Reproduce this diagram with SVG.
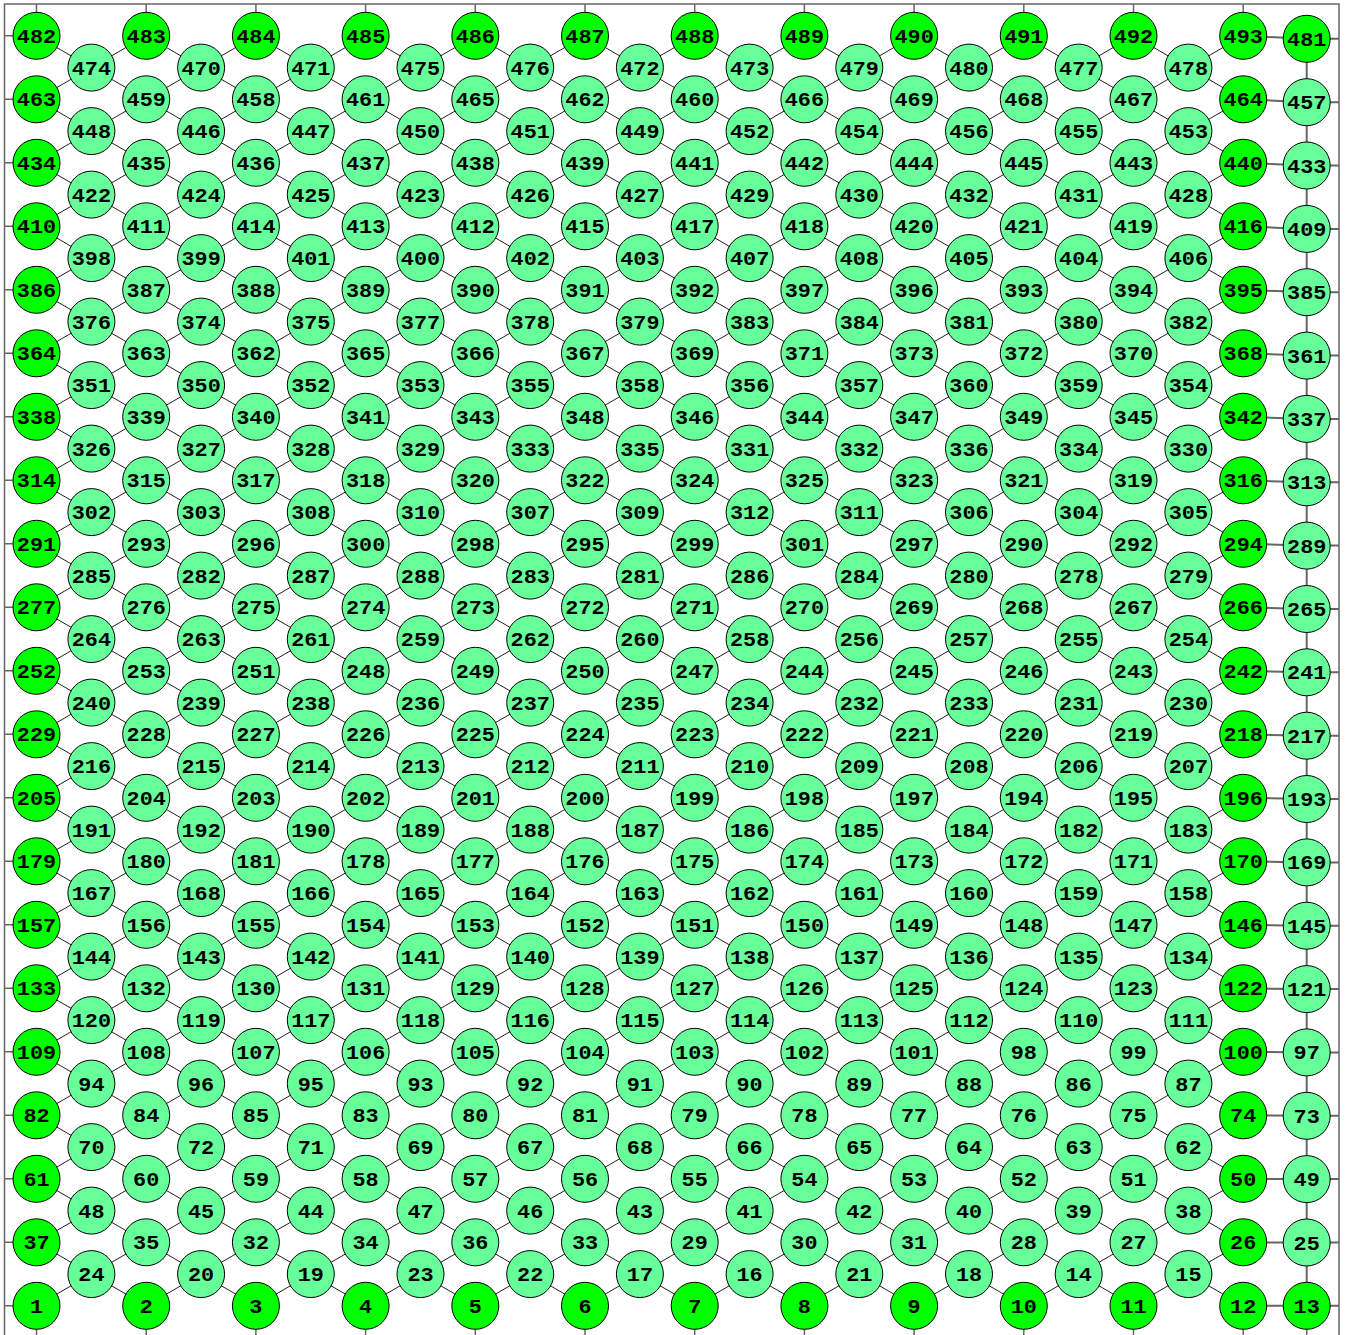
<svg xmlns="http://www.w3.org/2000/svg" width="1345" height="1335" viewBox="0 0 1345 1335">
<style>
.e{stroke:#222;stroke-width:1;fill:none}
.g{stroke:#666;stroke-width:2;fill:none}
.t{stroke:#666;stroke-width:1.5;fill:none}
circle{fill:#66ff99;stroke:#000;stroke-width:1}
.b circle{fill:#00ff00}
text{font-family:"Liberation Mono","DejaVu Sans Mono",monospace;font-weight:bold;font-size:19.5px;text-anchor:middle;fill:#000;transform:scale(1.12,1)}
</style>
<rect width="1345" height="1335" fill="#fff"/>
<g id="frame">
<path class="t" d="M4.5 1340V4H1339V1340"/>
<path class="t" d="M4.5 1305.8H36.5M4.5 1242.3H36.5M4.5 1178.8H36.5M4.5 1115.3H36.5M4.5 1051.8H36.5M4.5 988.3H36.5M4.5 924.8H36.5M4.5 861.3H36.5M4.5 797.8H36.5M4.5 734.3H36.5M4.5 670.8H36.5M4.5 607.3H36.5M4.5 543.8H36.5M4.5 480.3H36.5M4.5 416.8H36.5M4.5 353.3H36.5M4.5 289.8H36.5M4.5 226.3H36.5M4.5 162.8H36.5M4.5 99.3H36.5M4.5 35.8H36.5"/>
<path class="t" d="M36.5 4V35.8M146.2 4V35.8M255.9 4V35.8M365.6 4V35.8M475.3 4V35.8M585 4V35.8M694.7 4V35.8M804.4 4V35.8M914.1 4V35.8M1023.8 4V35.8M1133.5 4V35.8M1243.2 4V35.8"/>
<path class="t" d="M36.5 1305.8V1335M146.2 1305.8V1335M255.9 1305.8V1335M365.6 1305.8V1335M475.3 1305.8V1335M585 1305.8V1335M694.7 1305.8V1335M804.4 1305.8V1335M914.1 1305.8V1335M1023.8 1305.8V1335M1133.5 1305.8V1335M1243.2 1305.8V1335M1306.7 1305.8V1335"/>
</g>
<g id="connectors">
<path class="e" d="M1133.5 1305.8L1243.2 1242.3M1023.8 1305.8L1243.2 1178.8M914.1 1305.8L1243.2 1115.3M804.4 1305.8L1243.2 1051.8M694.7 1305.8L1243.2 988.3M585 1305.8L1243.2 924.8M475.3 1305.8L1243.2 861.3M365.6 1305.8L1243.2 797.8M255.9 1305.8L1243.2 734.3M146.2 1305.8L1243.2 670.8M36.5 1305.8L1243.2 607.3M36.5 1242.3L1243.2 543.8M36.5 1178.8L1243.2 480.3M36.5 1115.3L1243.2 416.8M36.5 1051.8L1243.2 353.3M36.5 988.3L1243.2 289.8M36.5 924.8L1243.2 226.3M36.5 861.3L1243.2 162.8M36.5 797.8L1243.2 99.3M36.5 734.3L1243.2 35.8M36.5 670.8L1133.5 35.8M36.5 607.3L1023.8 35.8M36.5 543.8L914.1 35.8M36.5 480.3L804.4 35.8M36.5 416.8L694.7 35.8M36.5 353.3L585 35.8M36.5 289.8L475.3 35.8M36.5 226.3L365.6 35.8M36.5 162.8L255.9 35.8M36.5 99.3L146.2 35.8"/>
<path class="e" d="M36.5 1242.3L146.2 1305.8M36.5 1178.8L255.9 1305.8M36.5 1115.3L365.6 1305.8M36.5 1051.8L475.3 1305.8M36.5 988.3L585 1305.8M36.5 924.8L694.7 1305.8M36.5 861.3L804.4 1305.8M36.5 797.8L914.1 1305.8M36.5 734.3L1023.8 1305.8M36.5 670.8L1133.5 1305.8M36.5 607.3L1243.2 1305.8M36.5 543.8L1243.2 1242.3M36.5 480.3L1243.2 1178.8M36.5 416.8L1243.2 1115.3M36.5 353.3L1243.2 1051.8M36.5 289.8L1243.2 988.3M36.5 226.3L1243.2 924.8M36.5 162.8L1243.2 861.3M36.5 99.3L1243.2 797.8M36.5 35.8L1243.2 734.3M146.2 35.8L1243.2 670.8M255.9 35.8L1243.2 607.3M365.6 35.8L1243.2 543.8M475.3 35.8L1243.2 480.3M585 35.8L1243.2 416.8M694.7 35.8L1243.2 353.3M804.4 35.8L1243.2 289.8M914.1 35.8L1243.2 226.3M1023.8 35.8L1243.2 162.8M1133.5 35.8L1243.2 99.3"/>
<path class="g" d="M1306.7 38.8V1305.8"/>
<path class="g" d="M1243.2 1305.8L1306.7 1305.8H1339M1243.2 1242.3L1306.7 1242.5H1339M1243.2 1178.8L1306.7 1179.1H1339M1243.2 1115.3L1306.7 1115.8H1339M1243.2 1051.8L1306.7 1052.4H1339M1243.2 988.3L1306.7 989.1H1339M1243.2 924.8L1306.7 925.7H1339M1243.2 861.3L1306.7 862.4H1339M1243.2 797.8L1306.7 799H1339M1243.2 734.3L1306.7 735.7H1339M1243.2 670.8L1306.7 672.3H1339M1243.2 607.3L1306.7 609H1339M1243.2 543.8L1306.7 545.6H1339M1243.2 480.3L1306.7 482.3H1339M1243.2 416.8L1306.7 418.9H1339M1243.2 353.3L1306.7 355.6H1339M1243.2 289.8L1306.7 292.2H1339M1243.2 226.3L1306.7 228.9H1339M1243.2 162.8L1306.7 165.5H1339M1243.2 99.3L1306.7 102.2H1339M1243.2 35.8L1306.7 38.8H1339"/>
</g>
<g id="nodes">
<g id="n1" class="b" transform="translate(36.5 1305.8)"><circle r="23.5"/><text y="7">1</text></g>
<g id="n2" class="b" transform="translate(146.2 1305.8)"><circle r="23.5"/><text y="7">2</text></g>
<g id="n3" class="b" transform="translate(255.9 1305.8)"><circle r="23.5"/><text y="7">3</text></g>
<g id="n4" class="b" transform="translate(365.6 1305.8)"><circle r="23.5"/><text y="7">4</text></g>
<g id="n5" class="b" transform="translate(475.3 1305.8)"><circle r="23.5"/><text y="7">5</text></g>
<g id="n6" class="b" transform="translate(585 1305.8)"><circle r="23.5"/><text y="7">6</text></g>
<g id="n7" class="b" transform="translate(694.7 1305.8)"><circle r="23.5"/><text y="7">7</text></g>
<g id="n8" class="b" transform="translate(804.4 1305.8)"><circle r="23.5"/><text y="7">8</text></g>
<g id="n9" class="b" transform="translate(914.1 1305.8)"><circle r="23.5"/><text y="7">9</text></g>
<g id="n10" class="b" transform="translate(1023.8 1305.8)"><circle r="23.5"/><text y="7">10</text></g>
<g id="n11" class="b" transform="translate(1133.5 1305.8)"><circle r="23.5"/><text y="7">11</text></g>
<g id="n12" class="b" transform="translate(1243.2 1305.8)"><circle r="23.5"/><text y="7">12</text></g>
<g id="n13" class="b" transform="translate(1306.7 1305.8)"><circle r="23.5"/><text y="7">13</text></g>
<g id="n24" transform="translate(91.4 1274.1)"><circle r="23.5"/><text y="7">24</text></g>
<g id="n20" transform="translate(201.1 1274.1)"><circle r="23.5"/><text y="7">20</text></g>
<g id="n19" transform="translate(310.8 1274.1)"><circle r="23.5"/><text y="7">19</text></g>
<g id="n23" transform="translate(420.5 1274.1)"><circle r="23.5"/><text y="7">23</text></g>
<g id="n22" transform="translate(530.2 1274.1)"><circle r="23.5"/><text y="7">22</text></g>
<g id="n17" transform="translate(639.9 1274.1)"><circle r="23.5"/><text y="7">17</text></g>
<g id="n16" transform="translate(749.6 1274.1)"><circle r="23.5"/><text y="7">16</text></g>
<g id="n21" transform="translate(859.3 1274.1)"><circle r="23.5"/><text y="7">21</text></g>
<g id="n18" transform="translate(969 1274.1)"><circle r="23.5"/><text y="7">18</text></g>
<g id="n14" transform="translate(1078.7 1274.1)"><circle r="23.5"/><text y="7">14</text></g>
<g id="n15" transform="translate(1188.4 1274.1)"><circle r="23.5"/><text y="7">15</text></g>
<g id="n37" class="b" transform="translate(36.5 1242.3)"><circle r="23.5"/><text y="7">37</text></g>
<g id="n35" transform="translate(146.2 1242.3)"><circle r="23.5"/><text y="7">35</text></g>
<g id="n32" transform="translate(255.9 1242.3)"><circle r="23.5"/><text y="7">32</text></g>
<g id="n34" transform="translate(365.6 1242.3)"><circle r="23.5"/><text y="7">34</text></g>
<g id="n36" transform="translate(475.3 1242.3)"><circle r="23.5"/><text y="7">36</text></g>
<g id="n33" transform="translate(585 1242.3)"><circle r="23.5"/><text y="7">33</text></g>
<g id="n29" transform="translate(694.7 1242.3)"><circle r="23.5"/><text y="7">29</text></g>
<g id="n30" transform="translate(804.4 1242.3)"><circle r="23.5"/><text y="7">30</text></g>
<g id="n31" transform="translate(914.1 1242.3)"><circle r="23.5"/><text y="7">31</text></g>
<g id="n28" transform="translate(1023.8 1242.3)"><circle r="23.5"/><text y="7">28</text></g>
<g id="n27" transform="translate(1133.5 1242.3)"><circle r="23.5"/><text y="7">27</text></g>
<g id="n26" class="b" transform="translate(1243.2 1242.3)"><circle r="23.5"/><text y="7">26</text></g>
<g id="n25" transform="translate(1306.7 1242.5)"><circle r="23.5"/><text y="7">25</text></g>
<g id="n48" transform="translate(91.4 1210.6)"><circle r="23.5"/><text y="7">48</text></g>
<g id="n45" transform="translate(201.1 1210.6)"><circle r="23.5"/><text y="7">45</text></g>
<g id="n44" transform="translate(310.8 1210.6)"><circle r="23.5"/><text y="7">44</text></g>
<g id="n47" transform="translate(420.5 1210.6)"><circle r="23.5"/><text y="7">47</text></g>
<g id="n46" transform="translate(530.2 1210.6)"><circle r="23.5"/><text y="7">46</text></g>
<g id="n43" transform="translate(639.9 1210.6)"><circle r="23.5"/><text y="7">43</text></g>
<g id="n41" transform="translate(749.6 1210.6)"><circle r="23.5"/><text y="7">41</text></g>
<g id="n42" transform="translate(859.3 1210.6)"><circle r="23.5"/><text y="7">42</text></g>
<g id="n40" transform="translate(969 1210.6)"><circle r="23.5"/><text y="7">40</text></g>
<g id="n39" transform="translate(1078.7 1210.6)"><circle r="23.5"/><text y="7">39</text></g>
<g id="n38" transform="translate(1188.4 1210.6)"><circle r="23.5"/><text y="7">38</text></g>
<g id="n61" class="b" transform="translate(36.5 1178.8)"><circle r="23.5"/><text y="7">61</text></g>
<g id="n60" transform="translate(146.2 1178.8)"><circle r="23.5"/><text y="7">60</text></g>
<g id="n59" transform="translate(255.9 1178.8)"><circle r="23.5"/><text y="7">59</text></g>
<g id="n58" transform="translate(365.6 1178.8)"><circle r="23.5"/><text y="7">58</text></g>
<g id="n57" transform="translate(475.3 1178.8)"><circle r="23.5"/><text y="7">57</text></g>
<g id="n56" transform="translate(585 1178.8)"><circle r="23.5"/><text y="7">56</text></g>
<g id="n55" transform="translate(694.7 1178.8)"><circle r="23.5"/><text y="7">55</text></g>
<g id="n54" transform="translate(804.4 1178.8)"><circle r="23.5"/><text y="7">54</text></g>
<g id="n53" transform="translate(914.1 1178.8)"><circle r="23.5"/><text y="7">53</text></g>
<g id="n52" transform="translate(1023.8 1178.8)"><circle r="23.5"/><text y="7">52</text></g>
<g id="n51" transform="translate(1133.5 1178.8)"><circle r="23.5"/><text y="7">51</text></g>
<g id="n50" class="b" transform="translate(1243.2 1178.8)"><circle r="23.5"/><text y="7">50</text></g>
<g id="n49" transform="translate(1306.7 1179.1)"><circle r="23.5"/><text y="7">49</text></g>
<g id="n70" transform="translate(91.4 1147.1)"><circle r="23.5"/><text y="7">70</text></g>
<g id="n72" transform="translate(201.1 1147.1)"><circle r="23.5"/><text y="7">72</text></g>
<g id="n71" transform="translate(310.8 1147.1)"><circle r="23.5"/><text y="7">71</text></g>
<g id="n69" transform="translate(420.5 1147.1)"><circle r="23.5"/><text y="7">69</text></g>
<g id="n67" transform="translate(530.2 1147.1)"><circle r="23.5"/><text y="7">67</text></g>
<g id="n68" transform="translate(639.9 1147.1)"><circle r="23.5"/><text y="7">68</text></g>
<g id="n66" transform="translate(749.6 1147.1)"><circle r="23.5"/><text y="7">66</text></g>
<g id="n65" transform="translate(859.3 1147.1)"><circle r="23.5"/><text y="7">65</text></g>
<g id="n64" transform="translate(969 1147.1)"><circle r="23.5"/><text y="7">64</text></g>
<g id="n63" transform="translate(1078.7 1147.1)"><circle r="23.5"/><text y="7">63</text></g>
<g id="n62" transform="translate(1188.4 1147.1)"><circle r="23.5"/><text y="7">62</text></g>
<g id="n82" class="b" transform="translate(36.5 1115.3)"><circle r="23.5"/><text y="7">82</text></g>
<g id="n84" transform="translate(146.2 1115.3)"><circle r="23.5"/><text y="7">84</text></g>
<g id="n85" transform="translate(255.9 1115.3)"><circle r="23.5"/><text y="7">85</text></g>
<g id="n83" transform="translate(365.6 1115.3)"><circle r="23.5"/><text y="7">83</text></g>
<g id="n80" transform="translate(475.3 1115.3)"><circle r="23.5"/><text y="7">80</text></g>
<g id="n81" transform="translate(585 1115.3)"><circle r="23.5"/><text y="7">81</text></g>
<g id="n79" transform="translate(694.7 1115.3)"><circle r="23.5"/><text y="7">79</text></g>
<g id="n78" transform="translate(804.4 1115.3)"><circle r="23.5"/><text y="7">78</text></g>
<g id="n77" transform="translate(914.1 1115.3)"><circle r="23.5"/><text y="7">77</text></g>
<g id="n76" transform="translate(1023.8 1115.3)"><circle r="23.5"/><text y="7">76</text></g>
<g id="n75" transform="translate(1133.5 1115.3)"><circle r="23.5"/><text y="7">75</text></g>
<g id="n74" class="b" transform="translate(1243.2 1115.3)"><circle r="23.5"/><text y="7">74</text></g>
<g id="n73" transform="translate(1306.7 1115.8)"><circle r="23.5"/><text y="7">73</text></g>
<g id="n94" transform="translate(91.4 1083.6)"><circle r="23.5"/><text y="7">94</text></g>
<g id="n96" transform="translate(201.1 1083.6)"><circle r="23.5"/><text y="7">96</text></g>
<g id="n95" transform="translate(310.8 1083.6)"><circle r="23.5"/><text y="7">95</text></g>
<g id="n93" transform="translate(420.5 1083.6)"><circle r="23.5"/><text y="7">93</text></g>
<g id="n92" transform="translate(530.2 1083.6)"><circle r="23.5"/><text y="7">92</text></g>
<g id="n91" transform="translate(639.9 1083.6)"><circle r="23.5"/><text y="7">91</text></g>
<g id="n90" transform="translate(749.6 1083.6)"><circle r="23.5"/><text y="7">90</text></g>
<g id="n89" transform="translate(859.3 1083.6)"><circle r="23.5"/><text y="7">89</text></g>
<g id="n88" transform="translate(969 1083.6)"><circle r="23.5"/><text y="7">88</text></g>
<g id="n86" transform="translate(1078.7 1083.6)"><circle r="23.5"/><text y="7">86</text></g>
<g id="n87" transform="translate(1188.4 1083.6)"><circle r="23.5"/><text y="7">87</text></g>
<g id="n109" class="b" transform="translate(36.5 1051.8)"><circle r="23.5"/><text y="7">109</text></g>
<g id="n108" transform="translate(146.2 1051.8)"><circle r="23.5"/><text y="7">108</text></g>
<g id="n107" transform="translate(255.9 1051.8)"><circle r="23.5"/><text y="7">107</text></g>
<g id="n106" transform="translate(365.6 1051.8)"><circle r="23.5"/><text y="7">106</text></g>
<g id="n105" transform="translate(475.3 1051.8)"><circle r="23.5"/><text y="7">105</text></g>
<g id="n104" transform="translate(585 1051.8)"><circle r="23.5"/><text y="7">104</text></g>
<g id="n103" transform="translate(694.7 1051.8)"><circle r="23.5"/><text y="7">103</text></g>
<g id="n102" transform="translate(804.4 1051.8)"><circle r="23.5"/><text y="7">102</text></g>
<g id="n101" transform="translate(914.1 1051.8)"><circle r="23.5"/><text y="7">101</text></g>
<g id="n98" transform="translate(1023.8 1051.8)"><circle r="23.5"/><text y="7">98</text></g>
<g id="n99" transform="translate(1133.5 1051.8)"><circle r="23.5"/><text y="7">99</text></g>
<g id="n100" class="b" transform="translate(1243.2 1051.8)"><circle r="23.5"/><text y="7">100</text></g>
<g id="n97" transform="translate(1306.7 1052.4)"><circle r="23.5"/><text y="7">97</text></g>
<g id="n120" transform="translate(91.4 1020.1)"><circle r="23.5"/><text y="7">120</text></g>
<g id="n119" transform="translate(201.1 1020.1)"><circle r="23.5"/><text y="7">119</text></g>
<g id="n117" transform="translate(310.8 1020.1)"><circle r="23.5"/><text y="7">117</text></g>
<g id="n118" transform="translate(420.5 1020.1)"><circle r="23.5"/><text y="7">118</text></g>
<g id="n116" transform="translate(530.2 1020.1)"><circle r="23.5"/><text y="7">116</text></g>
<g id="n115" transform="translate(639.9 1020.1)"><circle r="23.5"/><text y="7">115</text></g>
<g id="n114" transform="translate(749.6 1020.1)"><circle r="23.5"/><text y="7">114</text></g>
<g id="n113" transform="translate(859.3 1020.1)"><circle r="23.5"/><text y="7">113</text></g>
<g id="n112" transform="translate(969 1020.1)"><circle r="23.5"/><text y="7">112</text></g>
<g id="n110" transform="translate(1078.7 1020.1)"><circle r="23.5"/><text y="7">110</text></g>
<g id="n111" transform="translate(1188.4 1020.1)"><circle r="23.5"/><text y="7">111</text></g>
<g id="n133" class="b" transform="translate(36.5 988.3)"><circle r="23.5"/><text y="7">133</text></g>
<g id="n132" transform="translate(146.2 988.3)"><circle r="23.5"/><text y="7">132</text></g>
<g id="n130" transform="translate(255.9 988.3)"><circle r="23.5"/><text y="7">130</text></g>
<g id="n131" transform="translate(365.6 988.3)"><circle r="23.5"/><text y="7">131</text></g>
<g id="n129" transform="translate(475.3 988.3)"><circle r="23.5"/><text y="7">129</text></g>
<g id="n128" transform="translate(585 988.3)"><circle r="23.5"/><text y="7">128</text></g>
<g id="n127" transform="translate(694.7 988.3)"><circle r="23.5"/><text y="7">127</text></g>
<g id="n126" transform="translate(804.4 988.3)"><circle r="23.5"/><text y="7">126</text></g>
<g id="n125" transform="translate(914.1 988.3)"><circle r="23.5"/><text y="7">125</text></g>
<g id="n124" transform="translate(1023.8 988.3)"><circle r="23.5"/><text y="7">124</text></g>
<g id="n123" transform="translate(1133.5 988.3)"><circle r="23.5"/><text y="7">123</text></g>
<g id="n122" class="b" transform="translate(1243.2 988.3)"><circle r="23.5"/><text y="7">122</text></g>
<g id="n121" transform="translate(1306.7 989.1)"><circle r="23.5"/><text y="7">121</text></g>
<g id="n144" transform="translate(91.4 956.6)"><circle r="23.5"/><text y="7">144</text></g>
<g id="n143" transform="translate(201.1 956.6)"><circle r="23.5"/><text y="7">143</text></g>
<g id="n142" transform="translate(310.8 956.6)"><circle r="23.5"/><text y="7">142</text></g>
<g id="n141" transform="translate(420.5 956.6)"><circle r="23.5"/><text y="7">141</text></g>
<g id="n140" transform="translate(530.2 956.6)"><circle r="23.5"/><text y="7">140</text></g>
<g id="n139" transform="translate(639.9 956.6)"><circle r="23.5"/><text y="7">139</text></g>
<g id="n138" transform="translate(749.6 956.6)"><circle r="23.5"/><text y="7">138</text></g>
<g id="n137" transform="translate(859.3 956.6)"><circle r="23.5"/><text y="7">137</text></g>
<g id="n136" transform="translate(969 956.6)"><circle r="23.5"/><text y="7">136</text></g>
<g id="n135" transform="translate(1078.7 956.6)"><circle r="23.5"/><text y="7">135</text></g>
<g id="n134" transform="translate(1188.4 956.6)"><circle r="23.5"/><text y="7">134</text></g>
<g id="n157" class="b" transform="translate(36.5 924.8)"><circle r="23.5"/><text y="7">157</text></g>
<g id="n156" transform="translate(146.2 924.8)"><circle r="23.5"/><text y="7">156</text></g>
<g id="n155" transform="translate(255.9 924.8)"><circle r="23.5"/><text y="7">155</text></g>
<g id="n154" transform="translate(365.6 924.8)"><circle r="23.5"/><text y="7">154</text></g>
<g id="n153" transform="translate(475.3 924.8)"><circle r="23.5"/><text y="7">153</text></g>
<g id="n152" transform="translate(585 924.8)"><circle r="23.5"/><text y="7">152</text></g>
<g id="n151" transform="translate(694.7 924.8)"><circle r="23.5"/><text y="7">151</text></g>
<g id="n150" transform="translate(804.4 924.8)"><circle r="23.5"/><text y="7">150</text></g>
<g id="n149" transform="translate(914.1 924.8)"><circle r="23.5"/><text y="7">149</text></g>
<g id="n148" transform="translate(1023.8 924.8)"><circle r="23.5"/><text y="7">148</text></g>
<g id="n147" transform="translate(1133.5 924.8)"><circle r="23.5"/><text y="7">147</text></g>
<g id="n146" class="b" transform="translate(1243.2 924.8)"><circle r="23.5"/><text y="7">146</text></g>
<g id="n145" transform="translate(1306.7 925.7)"><circle r="23.5"/><text y="7">145</text></g>
<g id="n167" transform="translate(91.4 893.1)"><circle r="23.5"/><text y="7">167</text></g>
<g id="n168" transform="translate(201.1 893.1)"><circle r="23.5"/><text y="7">168</text></g>
<g id="n166" transform="translate(310.8 893.1)"><circle r="23.5"/><text y="7">166</text></g>
<g id="n165" transform="translate(420.5 893.1)"><circle r="23.5"/><text y="7">165</text></g>
<g id="n164" transform="translate(530.2 893.1)"><circle r="23.5"/><text y="7">164</text></g>
<g id="n163" transform="translate(639.9 893.1)"><circle r="23.5"/><text y="7">163</text></g>
<g id="n162" transform="translate(749.6 893.1)"><circle r="23.5"/><text y="7">162</text></g>
<g id="n161" transform="translate(859.3 893.1)"><circle r="23.5"/><text y="7">161</text></g>
<g id="n160" transform="translate(969 893.1)"><circle r="23.5"/><text y="7">160</text></g>
<g id="n159" transform="translate(1078.7 893.1)"><circle r="23.5"/><text y="7">159</text></g>
<g id="n158" transform="translate(1188.4 893.1)"><circle r="23.5"/><text y="7">158</text></g>
<g id="n179" class="b" transform="translate(36.5 861.3)"><circle r="23.5"/><text y="7">179</text></g>
<g id="n180" transform="translate(146.2 861.3)"><circle r="23.5"/><text y="7">180</text></g>
<g id="n181" transform="translate(255.9 861.3)"><circle r="23.5"/><text y="7">181</text></g>
<g id="n178" transform="translate(365.6 861.3)"><circle r="23.5"/><text y="7">178</text></g>
<g id="n177" transform="translate(475.3 861.3)"><circle r="23.5"/><text y="7">177</text></g>
<g id="n176" transform="translate(585 861.3)"><circle r="23.5"/><text y="7">176</text></g>
<g id="n175" transform="translate(694.7 861.3)"><circle r="23.5"/><text y="7">175</text></g>
<g id="n174" transform="translate(804.4 861.3)"><circle r="23.5"/><text y="7">174</text></g>
<g id="n173" transform="translate(914.1 861.3)"><circle r="23.5"/><text y="7">173</text></g>
<g id="n172" transform="translate(1023.8 861.3)"><circle r="23.5"/><text y="7">172</text></g>
<g id="n171" transform="translate(1133.5 861.3)"><circle r="23.5"/><text y="7">171</text></g>
<g id="n170" class="b" transform="translate(1243.2 861.3)"><circle r="23.5"/><text y="7">170</text></g>
<g id="n169" transform="translate(1306.7 862.4)"><circle r="23.5"/><text y="7">169</text></g>
<g id="n191" transform="translate(91.4 829.6)"><circle r="23.5"/><text y="7">191</text></g>
<g id="n192" transform="translate(201.1 829.6)"><circle r="23.5"/><text y="7">192</text></g>
<g id="n190" transform="translate(310.8 829.6)"><circle r="23.5"/><text y="7">190</text></g>
<g id="n189" transform="translate(420.5 829.6)"><circle r="23.5"/><text y="7">189</text></g>
<g id="n188" transform="translate(530.2 829.6)"><circle r="23.5"/><text y="7">188</text></g>
<g id="n187" transform="translate(639.9 829.6)"><circle r="23.5"/><text y="7">187</text></g>
<g id="n186" transform="translate(749.6 829.6)"><circle r="23.5"/><text y="7">186</text></g>
<g id="n185" transform="translate(859.3 829.6)"><circle r="23.5"/><text y="7">185</text></g>
<g id="n184" transform="translate(969 829.6)"><circle r="23.5"/><text y="7">184</text></g>
<g id="n182" transform="translate(1078.7 829.6)"><circle r="23.5"/><text y="7">182</text></g>
<g id="n183" transform="translate(1188.4 829.6)"><circle r="23.5"/><text y="7">183</text></g>
<g id="n205" class="b" transform="translate(36.5 797.8)"><circle r="23.5"/><text y="7">205</text></g>
<g id="n204" transform="translate(146.2 797.8)"><circle r="23.5"/><text y="7">204</text></g>
<g id="n203" transform="translate(255.9 797.8)"><circle r="23.5"/><text y="7">203</text></g>
<g id="n202" transform="translate(365.6 797.8)"><circle r="23.5"/><text y="7">202</text></g>
<g id="n201" transform="translate(475.3 797.8)"><circle r="23.5"/><text y="7">201</text></g>
<g id="n200" transform="translate(585 797.8)"><circle r="23.5"/><text y="7">200</text></g>
<g id="n199" transform="translate(694.7 797.8)"><circle r="23.5"/><text y="7">199</text></g>
<g id="n198" transform="translate(804.4 797.8)"><circle r="23.5"/><text y="7">198</text></g>
<g id="n197" transform="translate(914.1 797.8)"><circle r="23.5"/><text y="7">197</text></g>
<g id="n194" transform="translate(1023.8 797.8)"><circle r="23.5"/><text y="7">194</text></g>
<g id="n195" transform="translate(1133.5 797.8)"><circle r="23.5"/><text y="7">195</text></g>
<g id="n196" class="b" transform="translate(1243.2 797.8)"><circle r="23.5"/><text y="7">196</text></g>
<g id="n193" transform="translate(1306.7 799)"><circle r="23.5"/><text y="7">193</text></g>
<g id="n216" transform="translate(91.4 766.1)"><circle r="23.5"/><text y="7">216</text></g>
<g id="n215" transform="translate(201.1 766.1)"><circle r="23.5"/><text y="7">215</text></g>
<g id="n214" transform="translate(310.8 766.1)"><circle r="23.5"/><text y="7">214</text></g>
<g id="n213" transform="translate(420.5 766.1)"><circle r="23.5"/><text y="7">213</text></g>
<g id="n212" transform="translate(530.2 766.1)"><circle r="23.5"/><text y="7">212</text></g>
<g id="n211" transform="translate(639.9 766.1)"><circle r="23.5"/><text y="7">211</text></g>
<g id="n210" transform="translate(749.6 766.1)"><circle r="23.5"/><text y="7">210</text></g>
<g id="n209" transform="translate(859.3 766.1)"><circle r="23.5"/><text y="7">209</text></g>
<g id="n208" transform="translate(969 766.1)"><circle r="23.5"/><text y="7">208</text></g>
<g id="n206" transform="translate(1078.7 766.1)"><circle r="23.5"/><text y="7">206</text></g>
<g id="n207" transform="translate(1188.4 766.1)"><circle r="23.5"/><text y="7">207</text></g>
<g id="n229" class="b" transform="translate(36.5 734.3)"><circle r="23.5"/><text y="7">229</text></g>
<g id="n228" transform="translate(146.2 734.3)"><circle r="23.5"/><text y="7">228</text></g>
<g id="n227" transform="translate(255.9 734.3)"><circle r="23.5"/><text y="7">227</text></g>
<g id="n226" transform="translate(365.6 734.3)"><circle r="23.5"/><text y="7">226</text></g>
<g id="n225" transform="translate(475.3 734.3)"><circle r="23.5"/><text y="7">225</text></g>
<g id="n224" transform="translate(585 734.3)"><circle r="23.5"/><text y="7">224</text></g>
<g id="n223" transform="translate(694.7 734.3)"><circle r="23.5"/><text y="7">223</text></g>
<g id="n222" transform="translate(804.4 734.3)"><circle r="23.5"/><text y="7">222</text></g>
<g id="n221" transform="translate(914.1 734.3)"><circle r="23.5"/><text y="7">221</text></g>
<g id="n220" transform="translate(1023.8 734.3)"><circle r="23.5"/><text y="7">220</text></g>
<g id="n219" transform="translate(1133.5 734.3)"><circle r="23.5"/><text y="7">219</text></g>
<g id="n218" class="b" transform="translate(1243.2 734.3)"><circle r="23.5"/><text y="7">218</text></g>
<g id="n217" transform="translate(1306.7 735.7)"><circle r="23.5"/><text y="7">217</text></g>
<g id="n240" transform="translate(91.4 702.6)"><circle r="23.5"/><text y="7">240</text></g>
<g id="n239" transform="translate(201.1 702.6)"><circle r="23.5"/><text y="7">239</text></g>
<g id="n238" transform="translate(310.8 702.6)"><circle r="23.5"/><text y="7">238</text></g>
<g id="n236" transform="translate(420.5 702.6)"><circle r="23.5"/><text y="7">236</text></g>
<g id="n237" transform="translate(530.2 702.6)"><circle r="23.5"/><text y="7">237</text></g>
<g id="n235" transform="translate(639.9 702.6)"><circle r="23.5"/><text y="7">235</text></g>
<g id="n234" transform="translate(749.6 702.6)"><circle r="23.5"/><text y="7">234</text></g>
<g id="n232" transform="translate(859.3 702.6)"><circle r="23.5"/><text y="7">232</text></g>
<g id="n233" transform="translate(969 702.6)"><circle r="23.5"/><text y="7">233</text></g>
<g id="n231" transform="translate(1078.7 702.6)"><circle r="23.5"/><text y="7">231</text></g>
<g id="n230" transform="translate(1188.4 702.6)"><circle r="23.5"/><text y="7">230</text></g>
<g id="n252" class="b" transform="translate(36.5 670.8)"><circle r="23.5"/><text y="7">252</text></g>
<g id="n253" transform="translate(146.2 670.8)"><circle r="23.5"/><text y="7">253</text></g>
<g id="n251" transform="translate(255.9 670.8)"><circle r="23.5"/><text y="7">251</text></g>
<g id="n248" transform="translate(365.6 670.8)"><circle r="23.5"/><text y="7">248</text></g>
<g id="n249" transform="translate(475.3 670.8)"><circle r="23.5"/><text y="7">249</text></g>
<g id="n250" transform="translate(585 670.8)"><circle r="23.5"/><text y="7">250</text></g>
<g id="n247" transform="translate(694.7 670.8)"><circle r="23.5"/><text y="7">247</text></g>
<g id="n244" transform="translate(804.4 670.8)"><circle r="23.5"/><text y="7">244</text></g>
<g id="n245" transform="translate(914.1 670.8)"><circle r="23.5"/><text y="7">245</text></g>
<g id="n246" transform="translate(1023.8 670.8)"><circle r="23.5"/><text y="7">246</text></g>
<g id="n243" transform="translate(1133.5 670.8)"><circle r="23.5"/><text y="7">243</text></g>
<g id="n242" class="b" transform="translate(1243.2 670.8)"><circle r="23.5"/><text y="7">242</text></g>
<g id="n241" transform="translate(1306.7 672.3)"><circle r="23.5"/><text y="7">241</text></g>
<g id="n264" transform="translate(91.4 639.1)"><circle r="23.5"/><text y="7">264</text></g>
<g id="n263" transform="translate(201.1 639.1)"><circle r="23.5"/><text y="7">263</text></g>
<g id="n261" transform="translate(310.8 639.1)"><circle r="23.5"/><text y="7">261</text></g>
<g id="n259" transform="translate(420.5 639.1)"><circle r="23.5"/><text y="7">259</text></g>
<g id="n262" transform="translate(530.2 639.1)"><circle r="23.5"/><text y="7">262</text></g>
<g id="n260" transform="translate(639.9 639.1)"><circle r="23.5"/><text y="7">260</text></g>
<g id="n258" transform="translate(749.6 639.1)"><circle r="23.5"/><text y="7">258</text></g>
<g id="n256" transform="translate(859.3 639.1)"><circle r="23.5"/><text y="7">256</text></g>
<g id="n257" transform="translate(969 639.1)"><circle r="23.5"/><text y="7">257</text></g>
<g id="n255" transform="translate(1078.7 639.1)"><circle r="23.5"/><text y="7">255</text></g>
<g id="n254" transform="translate(1188.4 639.1)"><circle r="23.5"/><text y="7">254</text></g>
<g id="n277" class="b" transform="translate(36.5 607.3)"><circle r="23.5"/><text y="7">277</text></g>
<g id="n276" transform="translate(146.2 607.3)"><circle r="23.5"/><text y="7">276</text></g>
<g id="n275" transform="translate(255.9 607.3)"><circle r="23.5"/><text y="7">275</text></g>
<g id="n274" transform="translate(365.6 607.3)"><circle r="23.5"/><text y="7">274</text></g>
<g id="n273" transform="translate(475.3 607.3)"><circle r="23.5"/><text y="7">273</text></g>
<g id="n272" transform="translate(585 607.3)"><circle r="23.5"/><text y="7">272</text></g>
<g id="n271" transform="translate(694.7 607.3)"><circle r="23.5"/><text y="7">271</text></g>
<g id="n270" transform="translate(804.4 607.3)"><circle r="23.5"/><text y="7">270</text></g>
<g id="n269" transform="translate(914.1 607.3)"><circle r="23.5"/><text y="7">269</text></g>
<g id="n268" transform="translate(1023.8 607.3)"><circle r="23.5"/><text y="7">268</text></g>
<g id="n267" transform="translate(1133.5 607.3)"><circle r="23.5"/><text y="7">267</text></g>
<g id="n266" class="b" transform="translate(1243.2 607.3)"><circle r="23.5"/><text y="7">266</text></g>
<g id="n265" transform="translate(1306.7 609)"><circle r="23.5"/><text y="7">265</text></g>
<g id="n285" transform="translate(91.4 575.6)"><circle r="23.5"/><text y="7">285</text></g>
<g id="n282" transform="translate(201.1 575.6)"><circle r="23.5"/><text y="7">282</text></g>
<g id="n287" transform="translate(310.8 575.6)"><circle r="23.5"/><text y="7">287</text></g>
<g id="n288" transform="translate(420.5 575.6)"><circle r="23.5"/><text y="7">288</text></g>
<g id="n283" transform="translate(530.2 575.6)"><circle r="23.5"/><text y="7">283</text></g>
<g id="n281" transform="translate(639.9 575.6)"><circle r="23.5"/><text y="7">281</text></g>
<g id="n286" transform="translate(749.6 575.6)"><circle r="23.5"/><text y="7">286</text></g>
<g id="n284" transform="translate(859.3 575.6)"><circle r="23.5"/><text y="7">284</text></g>
<g id="n280" transform="translate(969 575.6)"><circle r="23.5"/><text y="7">280</text></g>
<g id="n278" transform="translate(1078.7 575.6)"><circle r="23.5"/><text y="7">278</text></g>
<g id="n279" transform="translate(1188.4 575.6)"><circle r="23.5"/><text y="7">279</text></g>
<g id="n291" class="b" transform="translate(36.5 543.8)"><circle r="23.5"/><text y="7">291</text></g>
<g id="n293" transform="translate(146.2 543.8)"><circle r="23.5"/><text y="7">293</text></g>
<g id="n296" transform="translate(255.9 543.8)"><circle r="23.5"/><text y="7">296</text></g>
<g id="n300" transform="translate(365.6 543.8)"><circle r="23.5"/><text y="7">300</text></g>
<g id="n298" transform="translate(475.3 543.8)"><circle r="23.5"/><text y="7">298</text></g>
<g id="n295" transform="translate(585 543.8)"><circle r="23.5"/><text y="7">295</text></g>
<g id="n299" transform="translate(694.7 543.8)"><circle r="23.5"/><text y="7">299</text></g>
<g id="n301" transform="translate(804.4 543.8)"><circle r="23.5"/><text y="7">301</text></g>
<g id="n297" transform="translate(914.1 543.8)"><circle r="23.5"/><text y="7">297</text></g>
<g id="n290" transform="translate(1023.8 543.8)"><circle r="23.5"/><text y="7">290</text></g>
<g id="n292" transform="translate(1133.5 543.8)"><circle r="23.5"/><text y="7">292</text></g>
<g id="n294" class="b" transform="translate(1243.2 543.8)"><circle r="23.5"/><text y="7">294</text></g>
<g id="n289" transform="translate(1306.7 545.6)"><circle r="23.5"/><text y="7">289</text></g>
<g id="n302" transform="translate(91.4 512.1)"><circle r="23.5"/><text y="7">302</text></g>
<g id="n303" transform="translate(201.1 512.1)"><circle r="23.5"/><text y="7">303</text></g>
<g id="n308" transform="translate(310.8 512.1)"><circle r="23.5"/><text y="7">308</text></g>
<g id="n310" transform="translate(420.5 512.1)"><circle r="23.5"/><text y="7">310</text></g>
<g id="n307" transform="translate(530.2 512.1)"><circle r="23.5"/><text y="7">307</text></g>
<g id="n309" transform="translate(639.9 512.1)"><circle r="23.5"/><text y="7">309</text></g>
<g id="n312" transform="translate(749.6 512.1)"><circle r="23.5"/><text y="7">312</text></g>
<g id="n311" transform="translate(859.3 512.1)"><circle r="23.5"/><text y="7">311</text></g>
<g id="n306" transform="translate(969 512.1)"><circle r="23.5"/><text y="7">306</text></g>
<g id="n304" transform="translate(1078.7 512.1)"><circle r="23.5"/><text y="7">304</text></g>
<g id="n305" transform="translate(1188.4 512.1)"><circle r="23.5"/><text y="7">305</text></g>
<g id="n314" class="b" transform="translate(36.5 480.3)"><circle r="23.5"/><text y="7">314</text></g>
<g id="n315" transform="translate(146.2 480.3)"><circle r="23.5"/><text y="7">315</text></g>
<g id="n317" transform="translate(255.9 480.3)"><circle r="23.5"/><text y="7">317</text></g>
<g id="n318" transform="translate(365.6 480.3)"><circle r="23.5"/><text y="7">318</text></g>
<g id="n320" transform="translate(475.3 480.3)"><circle r="23.5"/><text y="7">320</text></g>
<g id="n322" transform="translate(585 480.3)"><circle r="23.5"/><text y="7">322</text></g>
<g id="n324" transform="translate(694.7 480.3)"><circle r="23.5"/><text y="7">324</text></g>
<g id="n325" transform="translate(804.4 480.3)"><circle r="23.5"/><text y="7">325</text></g>
<g id="n323" transform="translate(914.1 480.3)"><circle r="23.5"/><text y="7">323</text></g>
<g id="n321" transform="translate(1023.8 480.3)"><circle r="23.5"/><text y="7">321</text></g>
<g id="n319" transform="translate(1133.5 480.3)"><circle r="23.5"/><text y="7">319</text></g>
<g id="n316" class="b" transform="translate(1243.2 480.3)"><circle r="23.5"/><text y="7">316</text></g>
<g id="n313" transform="translate(1306.7 482.3)"><circle r="23.5"/><text y="7">313</text></g>
<g id="n326" transform="translate(91.4 448.6)"><circle r="23.5"/><text y="7">326</text></g>
<g id="n327" transform="translate(201.1 448.6)"><circle r="23.5"/><text y="7">327</text></g>
<g id="n328" transform="translate(310.8 448.6)"><circle r="23.5"/><text y="7">328</text></g>
<g id="n329" transform="translate(420.5 448.6)"><circle r="23.5"/><text y="7">329</text></g>
<g id="n333" transform="translate(530.2 448.6)"><circle r="23.5"/><text y="7">333</text></g>
<g id="n335" transform="translate(639.9 448.6)"><circle r="23.5"/><text y="7">335</text></g>
<g id="n331" transform="translate(749.6 448.6)"><circle r="23.5"/><text y="7">331</text></g>
<g id="n332" transform="translate(859.3 448.6)"><circle r="23.5"/><text y="7">332</text></g>
<g id="n336" transform="translate(969 448.6)"><circle r="23.5"/><text y="7">336</text></g>
<g id="n334" transform="translate(1078.7 448.6)"><circle r="23.5"/><text y="7">334</text></g>
<g id="n330" transform="translate(1188.4 448.6)"><circle r="23.5"/><text y="7">330</text></g>
<g id="n338" class="b" transform="translate(36.5 416.8)"><circle r="23.5"/><text y="7">338</text></g>
<g id="n339" transform="translate(146.2 416.8)"><circle r="23.5"/><text y="7">339</text></g>
<g id="n340" transform="translate(255.9 416.8)"><circle r="23.5"/><text y="7">340</text></g>
<g id="n341" transform="translate(365.6 416.8)"><circle r="23.5"/><text y="7">341</text></g>
<g id="n343" transform="translate(475.3 416.8)"><circle r="23.5"/><text y="7">343</text></g>
<g id="n348" transform="translate(585 416.8)"><circle r="23.5"/><text y="7">348</text></g>
<g id="n346" transform="translate(694.7 416.8)"><circle r="23.5"/><text y="7">346</text></g>
<g id="n344" transform="translate(804.4 416.8)"><circle r="23.5"/><text y="7">344</text></g>
<g id="n347" transform="translate(914.1 416.8)"><circle r="23.5"/><text y="7">347</text></g>
<g id="n349" transform="translate(1023.8 416.8)"><circle r="23.5"/><text y="7">349</text></g>
<g id="n345" transform="translate(1133.5 416.8)"><circle r="23.5"/><text y="7">345</text></g>
<g id="n342" class="b" transform="translate(1243.2 416.8)"><circle r="23.5"/><text y="7">342</text></g>
<g id="n337" transform="translate(1306.7 418.9)"><circle r="23.5"/><text y="7">337</text></g>
<g id="n351" transform="translate(91.4 385.1)"><circle r="23.5"/><text y="7">351</text></g>
<g id="n350" transform="translate(201.1 385.1)"><circle r="23.5"/><text y="7">350</text></g>
<g id="n352" transform="translate(310.8 385.1)"><circle r="23.5"/><text y="7">352</text></g>
<g id="n353" transform="translate(420.5 385.1)"><circle r="23.5"/><text y="7">353</text></g>
<g id="n355" transform="translate(530.2 385.1)"><circle r="23.5"/><text y="7">355</text></g>
<g id="n358" transform="translate(639.9 385.1)"><circle r="23.5"/><text y="7">358</text></g>
<g id="n356" transform="translate(749.6 385.1)"><circle r="23.5"/><text y="7">356</text></g>
<g id="n357" transform="translate(859.3 385.1)"><circle r="23.5"/><text y="7">357</text></g>
<g id="n360" transform="translate(969 385.1)"><circle r="23.5"/><text y="7">360</text></g>
<g id="n359" transform="translate(1078.7 385.1)"><circle r="23.5"/><text y="7">359</text></g>
<g id="n354" transform="translate(1188.4 385.1)"><circle r="23.5"/><text y="7">354</text></g>
<g id="n364" class="b" transform="translate(36.5 353.3)"><circle r="23.5"/><text y="7">364</text></g>
<g id="n363" transform="translate(146.2 353.3)"><circle r="23.5"/><text y="7">363</text></g>
<g id="n362" transform="translate(255.9 353.3)"><circle r="23.5"/><text y="7">362</text></g>
<g id="n365" transform="translate(365.6 353.3)"><circle r="23.5"/><text y="7">365</text></g>
<g id="n366" transform="translate(475.3 353.3)"><circle r="23.5"/><text y="7">366</text></g>
<g id="n367" transform="translate(585 353.3)"><circle r="23.5"/><text y="7">367</text></g>
<g id="n369" transform="translate(694.7 353.3)"><circle r="23.5"/><text y="7">369</text></g>
<g id="n371" transform="translate(804.4 353.3)"><circle r="23.5"/><text y="7">371</text></g>
<g id="n373" transform="translate(914.1 353.3)"><circle r="23.5"/><text y="7">373</text></g>
<g id="n372" transform="translate(1023.8 353.3)"><circle r="23.5"/><text y="7">372</text></g>
<g id="n370" transform="translate(1133.5 353.3)"><circle r="23.5"/><text y="7">370</text></g>
<g id="n368" class="b" transform="translate(1243.2 353.3)"><circle r="23.5"/><text y="7">368</text></g>
<g id="n361" transform="translate(1306.7 355.6)"><circle r="23.5"/><text y="7">361</text></g>
<g id="n376" transform="translate(91.4 321.6)"><circle r="23.5"/><text y="7">376</text></g>
<g id="n374" transform="translate(201.1 321.6)"><circle r="23.5"/><text y="7">374</text></g>
<g id="n375" transform="translate(310.8 321.6)"><circle r="23.5"/><text y="7">375</text></g>
<g id="n377" transform="translate(420.5 321.6)"><circle r="23.5"/><text y="7">377</text></g>
<g id="n378" transform="translate(530.2 321.6)"><circle r="23.5"/><text y="7">378</text></g>
<g id="n379" transform="translate(639.9 321.6)"><circle r="23.5"/><text y="7">379</text></g>
<g id="n383" transform="translate(749.6 321.6)"><circle r="23.5"/><text y="7">383</text></g>
<g id="n384" transform="translate(859.3 321.6)"><circle r="23.5"/><text y="7">384</text></g>
<g id="n381" transform="translate(969 321.6)"><circle r="23.5"/><text y="7">381</text></g>
<g id="n380" transform="translate(1078.7 321.6)"><circle r="23.5"/><text y="7">380</text></g>
<g id="n382" transform="translate(1188.4 321.6)"><circle r="23.5"/><text y="7">382</text></g>
<g id="n386" class="b" transform="translate(36.5 289.8)"><circle r="23.5"/><text y="7">386</text></g>
<g id="n387" transform="translate(146.2 289.8)"><circle r="23.5"/><text y="7">387</text></g>
<g id="n388" transform="translate(255.9 289.8)"><circle r="23.5"/><text y="7">388</text></g>
<g id="n389" transform="translate(365.6 289.8)"><circle r="23.5"/><text y="7">389</text></g>
<g id="n390" transform="translate(475.3 289.8)"><circle r="23.5"/><text y="7">390</text></g>
<g id="n391" transform="translate(585 289.8)"><circle r="23.5"/><text y="7">391</text></g>
<g id="n392" transform="translate(694.7 289.8)"><circle r="23.5"/><text y="7">392</text></g>
<g id="n397" transform="translate(804.4 289.8)"><circle r="23.5"/><text y="7">397</text></g>
<g id="n396" transform="translate(914.1 289.8)"><circle r="23.5"/><text y="7">396</text></g>
<g id="n393" transform="translate(1023.8 289.8)"><circle r="23.5"/><text y="7">393</text></g>
<g id="n394" transform="translate(1133.5 289.8)"><circle r="23.5"/><text y="7">394</text></g>
<g id="n395" class="b" transform="translate(1243.2 289.8)"><circle r="23.5"/><text y="7">395</text></g>
<g id="n385" transform="translate(1306.7 292.2)"><circle r="23.5"/><text y="7">385</text></g>
<g id="n398" transform="translate(91.4 258.1)"><circle r="23.5"/><text y="7">398</text></g>
<g id="n399" transform="translate(201.1 258.1)"><circle r="23.5"/><text y="7">399</text></g>
<g id="n401" transform="translate(310.8 258.1)"><circle r="23.5"/><text y="7">401</text></g>
<g id="n400" transform="translate(420.5 258.1)"><circle r="23.5"/><text y="7">400</text></g>
<g id="n402" transform="translate(530.2 258.1)"><circle r="23.5"/><text y="7">402</text></g>
<g id="n403" transform="translate(639.9 258.1)"><circle r="23.5"/><text y="7">403</text></g>
<g id="n407" transform="translate(749.6 258.1)"><circle r="23.5"/><text y="7">407</text></g>
<g id="n408" transform="translate(859.3 258.1)"><circle r="23.5"/><text y="7">408</text></g>
<g id="n405" transform="translate(969 258.1)"><circle r="23.5"/><text y="7">405</text></g>
<g id="n404" transform="translate(1078.7 258.1)"><circle r="23.5"/><text y="7">404</text></g>
<g id="n406" transform="translate(1188.4 258.1)"><circle r="23.5"/><text y="7">406</text></g>
<g id="n410" class="b" transform="translate(36.5 226.3)"><circle r="23.5"/><text y="7">410</text></g>
<g id="n411" transform="translate(146.2 226.3)"><circle r="23.5"/><text y="7">411</text></g>
<g id="n414" transform="translate(255.9 226.3)"><circle r="23.5"/><text y="7">414</text></g>
<g id="n413" transform="translate(365.6 226.3)"><circle r="23.5"/><text y="7">413</text></g>
<g id="n412" transform="translate(475.3 226.3)"><circle r="23.5"/><text y="7">412</text></g>
<g id="n415" transform="translate(585 226.3)"><circle r="23.5"/><text y="7">415</text></g>
<g id="n417" transform="translate(694.7 226.3)"><circle r="23.5"/><text y="7">417</text></g>
<g id="n418" transform="translate(804.4 226.3)"><circle r="23.5"/><text y="7">418</text></g>
<g id="n420" transform="translate(914.1 226.3)"><circle r="23.5"/><text y="7">420</text></g>
<g id="n421" transform="translate(1023.8 226.3)"><circle r="23.5"/><text y="7">421</text></g>
<g id="n419" transform="translate(1133.5 226.3)"><circle r="23.5"/><text y="7">419</text></g>
<g id="n416" class="b" transform="translate(1243.2 226.3)"><circle r="23.5"/><text y="7">416</text></g>
<g id="n409" transform="translate(1306.7 228.9)"><circle r="23.5"/><text y="7">409</text></g>
<g id="n422" transform="translate(91.4 194.6)"><circle r="23.5"/><text y="7">422</text></g>
<g id="n424" transform="translate(201.1 194.6)"><circle r="23.5"/><text y="7">424</text></g>
<g id="n425" transform="translate(310.8 194.6)"><circle r="23.5"/><text y="7">425</text></g>
<g id="n423" transform="translate(420.5 194.6)"><circle r="23.5"/><text y="7">423</text></g>
<g id="n426" transform="translate(530.2 194.6)"><circle r="23.5"/><text y="7">426</text></g>
<g id="n427" transform="translate(639.9 194.6)"><circle r="23.5"/><text y="7">427</text></g>
<g id="n429" transform="translate(749.6 194.6)"><circle r="23.5"/><text y="7">429</text></g>
<g id="n430" transform="translate(859.3 194.6)"><circle r="23.5"/><text y="7">430</text></g>
<g id="n432" transform="translate(969 194.6)"><circle r="23.5"/><text y="7">432</text></g>
<g id="n431" transform="translate(1078.7 194.6)"><circle r="23.5"/><text y="7">431</text></g>
<g id="n428" transform="translate(1188.4 194.6)"><circle r="23.5"/><text y="7">428</text></g>
<g id="n434" class="b" transform="translate(36.5 162.8)"><circle r="23.5"/><text y="7">434</text></g>
<g id="n435" transform="translate(146.2 162.8)"><circle r="23.5"/><text y="7">435</text></g>
<g id="n436" transform="translate(255.9 162.8)"><circle r="23.5"/><text y="7">436</text></g>
<g id="n437" transform="translate(365.6 162.8)"><circle r="23.5"/><text y="7">437</text></g>
<g id="n438" transform="translate(475.3 162.8)"><circle r="23.5"/><text y="7">438</text></g>
<g id="n439" transform="translate(585 162.8)"><circle r="23.5"/><text y="7">439</text></g>
<g id="n441" transform="translate(694.7 162.8)"><circle r="23.5"/><text y="7">441</text></g>
<g id="n442" transform="translate(804.4 162.8)"><circle r="23.5"/><text y="7">442</text></g>
<g id="n444" transform="translate(914.1 162.8)"><circle r="23.5"/><text y="7">444</text></g>
<g id="n445" transform="translate(1023.8 162.8)"><circle r="23.5"/><text y="7">445</text></g>
<g id="n443" transform="translate(1133.5 162.8)"><circle r="23.5"/><text y="7">443</text></g>
<g id="n440" class="b" transform="translate(1243.2 162.8)"><circle r="23.5"/><text y="7">440</text></g>
<g id="n433" transform="translate(1306.7 165.5)"><circle r="23.5"/><text y="7">433</text></g>
<g id="n448" transform="translate(91.4 131.1)"><circle r="23.5"/><text y="7">448</text></g>
<g id="n446" transform="translate(201.1 131.1)"><circle r="23.5"/><text y="7">446</text></g>
<g id="n447" transform="translate(310.8 131.1)"><circle r="23.5"/><text y="7">447</text></g>
<g id="n450" transform="translate(420.5 131.1)"><circle r="23.5"/><text y="7">450</text></g>
<g id="n451" transform="translate(530.2 131.1)"><circle r="23.5"/><text y="7">451</text></g>
<g id="n449" transform="translate(639.9 131.1)"><circle r="23.5"/><text y="7">449</text></g>
<g id="n452" transform="translate(749.6 131.1)"><circle r="23.5"/><text y="7">452</text></g>
<g id="n454" transform="translate(859.3 131.1)"><circle r="23.5"/><text y="7">454</text></g>
<g id="n456" transform="translate(969 131.1)"><circle r="23.5"/><text y="7">456</text></g>
<g id="n455" transform="translate(1078.7 131.1)"><circle r="23.5"/><text y="7">455</text></g>
<g id="n453" transform="translate(1188.4 131.1)"><circle r="23.5"/><text y="7">453</text></g>
<g id="n463" class="b" transform="translate(36.5 99.3)"><circle r="23.5"/><text y="7">463</text></g>
<g id="n459" transform="translate(146.2 99.3)"><circle r="23.5"/><text y="7">459</text></g>
<g id="n458" transform="translate(255.9 99.3)"><circle r="23.5"/><text y="7">458</text></g>
<g id="n461" transform="translate(365.6 99.3)"><circle r="23.5"/><text y="7">461</text></g>
<g id="n465" transform="translate(475.3 99.3)"><circle r="23.5"/><text y="7">465</text></g>
<g id="n462" transform="translate(585 99.3)"><circle r="23.5"/><text y="7">462</text></g>
<g id="n460" transform="translate(694.7 99.3)"><circle r="23.5"/><text y="7">460</text></g>
<g id="n466" transform="translate(804.4 99.3)"><circle r="23.5"/><text y="7">466</text></g>
<g id="n469" transform="translate(914.1 99.3)"><circle r="23.5"/><text y="7">469</text></g>
<g id="n468" transform="translate(1023.8 99.3)"><circle r="23.5"/><text y="7">468</text></g>
<g id="n467" transform="translate(1133.5 99.3)"><circle r="23.5"/><text y="7">467</text></g>
<g id="n464" class="b" transform="translate(1243.2 99.3)"><circle r="23.5"/><text y="7">464</text></g>
<g id="n457" transform="translate(1306.7 102.2)"><circle r="23.5"/><text y="7">457</text></g>
<g id="n474" transform="translate(91.4 67.6)"><circle r="23.5"/><text y="7">474</text></g>
<g id="n470" transform="translate(201.1 67.6)"><circle r="23.5"/><text y="7">470</text></g>
<g id="n471" transform="translate(310.8 67.6)"><circle r="23.5"/><text y="7">471</text></g>
<g id="n475" transform="translate(420.5 67.6)"><circle r="23.5"/><text y="7">475</text></g>
<g id="n476" transform="translate(530.2 67.6)"><circle r="23.5"/><text y="7">476</text></g>
<g id="n472" transform="translate(639.9 67.6)"><circle r="23.5"/><text y="7">472</text></g>
<g id="n473" transform="translate(749.6 67.6)"><circle r="23.5"/><text y="7">473</text></g>
<g id="n479" transform="translate(859.3 67.6)"><circle r="23.5"/><text y="7">479</text></g>
<g id="n480" transform="translate(969 67.6)"><circle r="23.5"/><text y="7">480</text></g>
<g id="n477" transform="translate(1078.7 67.6)"><circle r="23.5"/><text y="7">477</text></g>
<g id="n478" transform="translate(1188.4 67.6)"><circle r="23.5"/><text y="7">478</text></g>
<g id="n482" class="b" transform="translate(36.5 35.8)"><circle r="23.5"/><text y="7">482</text></g>
<g id="n483" class="b" transform="translate(146.2 35.8)"><circle r="23.5"/><text y="7">483</text></g>
<g id="n484" class="b" transform="translate(255.9 35.8)"><circle r="23.5"/><text y="7">484</text></g>
<g id="n485" class="b" transform="translate(365.6 35.8)"><circle r="23.5"/><text y="7">485</text></g>
<g id="n486" class="b" transform="translate(475.3 35.8)"><circle r="23.5"/><text y="7">486</text></g>
<g id="n487" class="b" transform="translate(585 35.8)"><circle r="23.5"/><text y="7">487</text></g>
<g id="n488" class="b" transform="translate(694.7 35.8)"><circle r="23.5"/><text y="7">488</text></g>
<g id="n489" class="b" transform="translate(804.4 35.8)"><circle r="23.5"/><text y="7">489</text></g>
<g id="n490" class="b" transform="translate(914.1 35.8)"><circle r="23.5"/><text y="7">490</text></g>
<g id="n491" class="b" transform="translate(1023.8 35.8)"><circle r="23.5"/><text y="7">491</text></g>
<g id="n492" class="b" transform="translate(1133.5 35.8)"><circle r="23.5"/><text y="7">492</text></g>
<g id="n493" class="b" transform="translate(1243.2 35.8)"><circle r="23.5"/><text y="7">493</text></g>
<g id="n481" class="b" transform="translate(1306.7 38.8)"><circle r="23.5"/><text y="7">481</text></g>
</g>
</svg>
